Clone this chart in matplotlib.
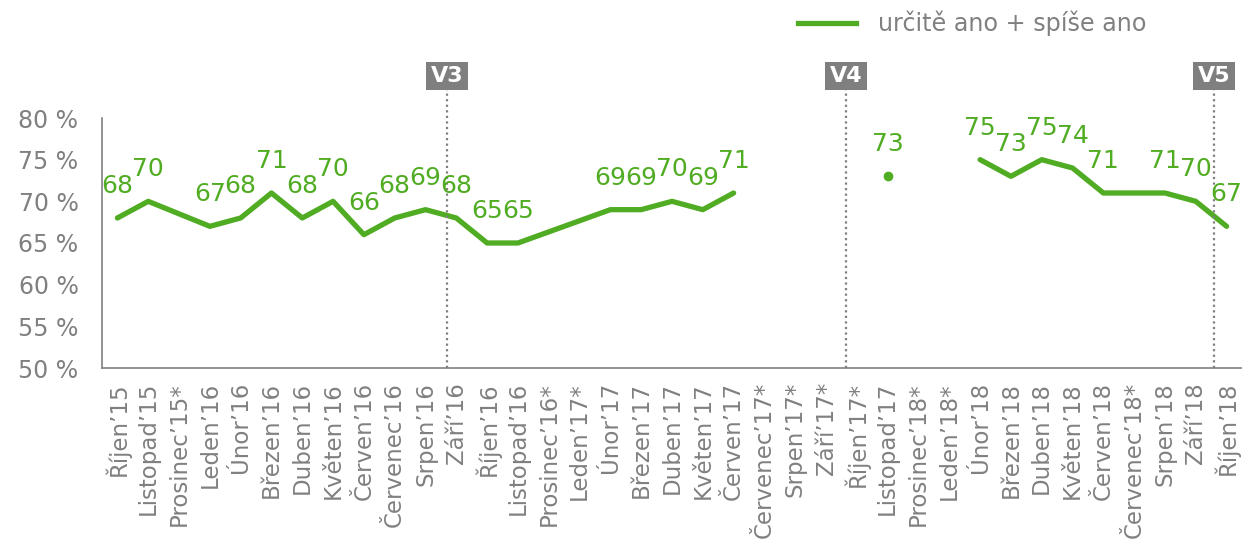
import matplotlib
matplotlib.use("Agg")
import matplotlib.pyplot as plt
import matplotlib.transforms as mtransforms
from matplotlib.lines import Line2D
import numpy as np

months = ["Říjen’15", "Listopad’15", "Prosinec’15*", "Leden’16", "Únor’16", "Březen’16",
          "Duben’16", "Květen’16", "Červen’16", "Červenec’16", "Srpen’16", "Září’16",
          "Říjen’16", "Listopad’16", "Prosinec’16*", "Leden’17*", "Únor’17", "Březen’17",
          "Duben’17", "Květen’17", "Červen’17", "Červenec’17*", "Srpen’17*", "Září’17*",
          "Říjen’17*", "Listopad’17", "Prosinec’18*", "Leden’18*", "Únor’18", "Březen’18",
          "Duben’18", "Květen’18", "Červen’18", "Červenec’18*", "Srpen’18", "Září’18",
          "Říjen’18"]
values = [68, 70, None, 67, 68, 71, 68, 70, 66, 68, 69, 68, 65, 65, None, None, 69, 69,
          70, 69, 71, None, None, None, None, 73, None, None, 75, 73, 75, 74, 71, None,
          71, 70, 67]
# groups of months joined by one line (first, last index)
segments = [(0, 20), (25, 25), (28, 36)]
waves = ["V3", "V4", "V5"]
wave_pos = [10.7, 23.65, 35.59]
series_name = "určitě ano + spíše ano"

green = "#50AC22"
gray = "#808080"

fig = plt.figure(figsize=(12.42, 5.45), dpi=100)
ax = fig.add_axes([102 / 1242, 1 - 368 / 545, 1140 / 1242, 250 / 545])

for a, b in segments:
    xs = [i for i in range(a, b + 1) if values[i] is not None]
    ys = [values[i] for i in xs]
    if len(xs) == 1:
        ax.plot(xs, ys, "o", color=green, markersize=6)
    else:
        ax.plot(xs, ys, color=green, linewidth=3.8, solid_capstyle="round", solid_joinstyle="round")

for i, v in enumerate(values):
    if v is None:
        continue
    ax.annotate(str(v), (i, v), xytext=(0, 23), textcoords="offset points",
                ha="center", va="center", color=green, fontsize=18)

trans = mtransforms.blended_transform_factory(ax.transData, ax.transAxes)
for name, pos in zip(waves, wave_pos):
    ax.plot([pos, pos], [0, 1.112], transform=trans, color=gray, linestyle=(0, (1, 1.5)),
            linewidth=1.6, clip_on=False)
    ax.text(pos, 1.168, name, transform=trans, ha="center", va="center", color="white",
            fontsize=16, fontweight="bold",
            bbox=dict(boxstyle="square,pad=0.2", facecolor="#7F7F7F", edgecolor="none"))

ax.set_xlim(-0.5, len(months) - 0.5)
ax.set_ylim(50, 80)
ax.set_yticks(range(50, 81, 5))
ax.set_yticklabels([f"{t} %" for t in range(50, 81, 5)])
ax.set_xticks(range(len(months)))
ax.set_xticklabels(months, rotation=90)
ax.tick_params(axis="y", length=0, pad=17, labelsize=17, labelcolor=gray)
ax.tick_params(axis="x", length=0, pad=10, labelsize=16.5, labelcolor=gray)

for s in ["top", "right"]:
    ax.spines[s].set_visible(False)
for s in ["left", "bottom"]:
    ax.spines[s].set_color(gray)
    ax.spines[s].set_linewidth(1.2)

fig.add_artist(Line2D([798 / 1242, 856 / 1242], [1 - 23 / 545, 1 - 23 / 545],
                      color=green, linewidth=3.8, transform=fig.transFigure))
fig.text(878 / 1242, 1 - 23 / 545, series_name, ha="left", va="center", color=gray, fontsize=17.2)

fig.savefig("out.png", dpi=100)
